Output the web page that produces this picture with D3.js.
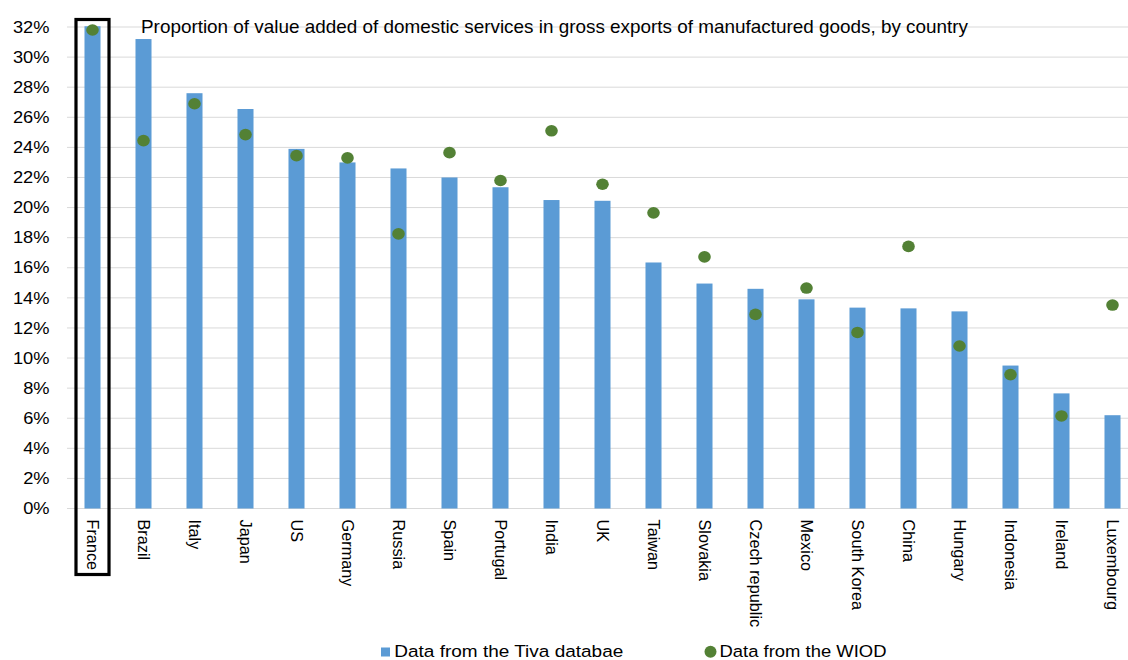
<!DOCTYPE html>
<html><head><meta charset="utf-8">
<script src="https://cdn.jsdelivr.net/npm/d3@7"></script>
<style>body{margin:0;background:#fff}svg{display:block;font-family:"Liberation Sans",Arial,sans-serif}</style>
</head><body><svg id="c" width="1128" height="660"></svg>
<script>
const countries = ["France","Brazil","Italy","Japan","US","Germany","Russia","Spain","Portugal","India","UK","Taiwan","Slovakia","Czech republic","Mexico","South Korea","China","Hungary","Indonesia","Ireland","Luxembourg"];
const tiva = [32.05,31.2,27.6,26.55,23.9,23.0,22.6,22.0,21.35,20.5,20.45,16.35,14.95,14.6,13.9,13.35,13.3,13.1,9.5,7.65,6.2];
const wiod = [31.8,24.45,26.9,24.85,23.45,23.3,18.25,23.65,21.8,25.1,21.55,19.65,16.72,12.9,14.65,11.7,17.42,10.8,8.9,6.15,13.52];
const yTicks = [0,2,4,6,8,10,12,14,16,18,20,22,24,26,28,30,32];
const title = "Proportion of value added of domestic services in gross exports of manufactured goods, by country";
const legendLabels = ["Data from the Tiva databae","Data from the WIOD"];

const svg = d3.select("#c");
const x = d3.scaleBand().domain(countries).range([67,1138]).paddingInner(0.686).paddingOuter(0.343);
const y = d3.scaleLinear().domain([0,32]).range([508.5,27]);

// gridlines
svg.append("g").selectAll("line").data(yTicks).join("line")
  .attr("x1",67).attr("x2",1128).attr("y1",d=>y(d)).attr("y2",d=>y(d))
  .attr("stroke","#d9d9d9").attr("stroke-width",1);

// y axis labels (horizontally stretched like the reference)
const yAxis = svg.append("g").attr("transform","translate(67,0)")
  .call(d3.axisLeft(y).tickValues(yTicks).tickFormat(d=>d+"%").tickSize(0).tickPadding(0));
yAxis.select(".domain").remove();
yAxis.selectAll(".tick text")
  .attr("x",0).attr("font-size",16.3).attr("fill","#000")
  .attr("font-family","Liberation Sans, Arial, sans-serif")
  .attr("transform","translate(-17.5,0) scale(1.12,1)");

// bars
svg.append("g").selectAll("rect").data(countries).join("rect")
  .attr("x",d=>x(d)).attr("width",x.bandwidth())
  .attr("y",(d,i)=>y(tiva[i])).attr("height",(d,i)=>y(0)-y(tiva[i]))
  .attr("fill","#5b9bd5");

// dots
svg.append("g").selectAll("ellipse").data(countries).join("ellipse")
  .attr("cx",d=>x(d)+x.bandwidth()/2).attr("cy",(d,i)=>y(wiod[i]))
  .attr("rx",6.3).attr("ry",5.8).attr("fill","#538135");

// x labels
const xAxis = svg.append("g").attr("transform",`translate(0,${y(0)})`)
  .call(d3.axisBottom(x).tickSize(0).tickPadding(0));
xAxis.select(".domain").remove();
xAxis.selectAll("text")
  .attr("transform","rotate(90)")
  .attr("x",11).attr("y",0).attr("dy","0.36em")
  .attr("text-anchor","start").attr("font-size",16.3).attr("fill","#000")
  .attr("font-family","Liberation Sans, Arial, sans-serif");

// France highlight box
svg.append("rect").attr("x",x("France")-8.5).attr("y",19.5)
  .attr("width",x.bandwidth()+17).attr("height",555)
  .attr("fill","none").attr("stroke","#000").attr("stroke-width",3.2);

// title
svg.append("text").attr("x",141).attr("y",32.7).attr("font-size",17.7).attr("fill","#000")
  .attr("textLength",827).attr("lengthAdjust","spacingAndGlyphs").text(title);

// legend
svg.append("rect").attr("x",381).attr("y",647.5).attr("width",9).attr("height",9).attr("fill","#5b9bd5");
svg.append("text").attr("x",394.3).attr("y",657).attr("font-size",16.3).attr("fill","#000")
  .attr("textLength",229).attr("lengthAdjust","spacingAndGlyphs").text(legendLabels[0]);
svg.append("circle").attr("cx",710.5).attr("cy",651.7).attr("r",6).attr("fill","#538135");
svg.append("text").attr("x",719.5).attr("y",657).attr("font-size",16.3).attr("fill","#000")
  .attr("textLength",167).attr("lengthAdjust","spacingAndGlyphs").text(legendLabels[1]);
</script></body></html>
